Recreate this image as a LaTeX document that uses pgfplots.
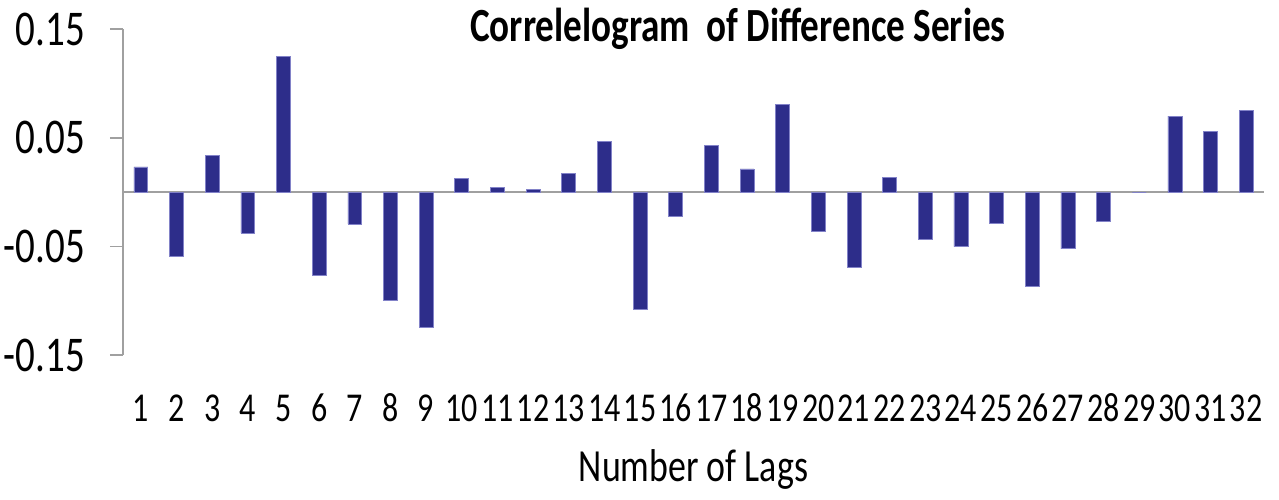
\documentclass[border=0pt]{standalone}
\usepackage{pgfplots}
\pgfplotsset{compat=1.18}
\usepackage{fontspec}
\setmainfont{Carlito}[FakeStretch=0.78]
\definecolor{barblue}{RGB}{45,45,138}
\definecolor{baredge}{RGB}{130,130,200}
\definecolor{axgray}{RGB}{160,160,160}

\pgfplotstableread{
lag acf
1 0.0234
2 -0.059
3 0.034
4 -0.0375
5 0.125
6 -0.076
7 -0.029
8 -0.099
9 -0.1245
10 0.0129
11 0.0046
12 0.0025
13 0.0175
14 0.0468
15 -0.1076
16 -0.0225
17 0.0428
18 0.0216
19 0.081
20 -0.036
21 -0.069
22 0.0135
23 -0.0437
24 -0.050
25 -0.0286
26 -0.0862
27 -0.052
28 -0.027
29 0
30 0.0702
31 0.0558
32 0.0750
}\acftable

\begin{document}
\begin{tikzpicture}
\begin{axis}[
    width=570.5pt, height=163pt, scale only axis,
    xmin=0.5, xmax=32.5, ymin=-0.15, ymax=0.15,
    axis y line*=left, axis x line*=bottom,
    x axis line style={draw=none},
    y axis line style={axgray, line width=0.8pt},
    xtick={1,...,32}, xtick style={draw=none},
    ytick={-0.15,-0.05,0.05,0.15},
    yticklabels={-0.15,-0.05,0.05,0.15},
    ytick style={axgray, line width=0.8pt},
    tick align=outside, major tick length=6.5pt,
    /pgf/number format/assume math mode=true,
    yticklabel style={font=\fontsize{25}{28}\selectfont, xshift=-9pt},
    xticklabel style={font=\fontsize{20.5}{24}\selectfont, text height=13pt, text depth=0pt, yshift=-10pt},
    xlabel={Number of Lags},
    xlabel style={font=\fontsize{23}{26}\selectfont, at={(axis description cs:0.5,0)}, anchor=center, yshift=-57pt},
    ybar, bar width=0.39,
    clip=false,
]
\draw[axgray, line width=1.1pt] (rel axis cs:0,0.5) -- (rel axis cs:1,0.5);
\addplot[fill=barblue, draw=baredge, line width=0.3pt] table[x=lag, y=acf] {\acftable};
\node[font=\bfseries\fontsize{23.8}{27}\selectfont] at (rel axis cs:0.539,1.0) {Correlelogram\ \ of Difference Series};
\end{axis}
\pgfresetboundingbox
\path[use as bounding box] ([xshift=-61.5pt,yshift=-72pt]current axis.south west) rectangle ([xshift=7.5pt,yshift=14.65pt]current axis.north east);
\end{tikzpicture}
\end{document}
